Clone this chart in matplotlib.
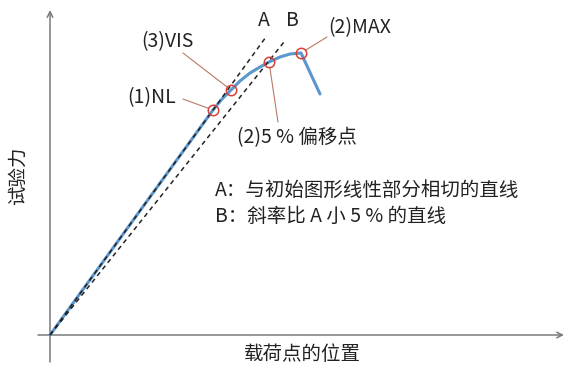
import numpy as np
import matplotlib
matplotlib.use('Agg')
import matplotlib.pyplot as plt

plt.rcParams['font.family'] = ['Noto Sans CJK SC', 'DejaVu Sans']

# load-displacement curve (displacement, force)
disp = [0, 163, 172, 181, 190, 200, 210, 219, 230, 240, 251, 270]
force = [0, 225, 236, 245, 254, 262, 268, 273, 278, 281, 282, 241]

# characteristic points
pt_names = ['NL', 'VIS', 'OFFSET', 'MAX']
pt_x = [163, 181, 219, 251]
pt_y = [225, 245, 273, 282]

# straight lines through the origin
slope_a = 1.38
slope_b = 1.252
end_a = 217
end_b = 236

fig = plt.figure(figsize=(5.66, 3.68), dpi=100)
ax = fig.add_axes([0, 0, 1, 1])
ax.set_xlim(-50, 516)
ax.set_ylim(-33, 335)
ax.axis('off')

# axes with arrows
axis_col = '#7a7a7a'
ax.annotate('', xy=(514, 0), xytext=(-12, 0),
            arrowprops=dict(arrowstyle='->', color=axis_col, lw=1.1, shrinkA=0, shrinkB=0))
ax.annotate('', xy=(0, 325), xytext=(0, -27),
            arrowprops=dict(arrowstyle='->', color=axis_col, lw=1.1, shrinkA=0, shrinkB=0))

# curve
ax.plot(disp, force, color='#5b96cc', lw=2.2, solid_capstyle='round', zorder=3)

# A and B lines
xa = np.array([0, end_a])
xb = np.array([0, end_b])
ax.plot(xa, slope_a * xa, color='#222222', lw=1.1, ls=(0, (3, 2.5)), zorder=4)
ax.plot(xb, slope_b * xb, color='#222222', lw=1.1, ls=(0, (3, 2.5)), zorder=4)

# circles on the characteristic points
ax.plot(pt_x, pt_y, 'o', ms=7.5, mfc='none', mec='#d8413a', mew=1.1, zorder=5)

# leader lines and labels
lead_col = '#b87a66'
labels = {
    'NL': ('(1)NL', (133, 236), (102, 237), 'center'),
    'VIS': ('(3)VIS', (133, 282), (117, 293), 'center'),
    'OFFSET': ('(2)5 % 偏移点', (228, 213), (187, 197), 'left'),
    'MAX': ('(2)MAX', (277, 298), (278, 307), 'left'),
}
fs = 14
for name, x, y in zip(pt_names, pt_x, pt_y):
    txt, start, tpos, ha = labels[name]
    ax.annotate('', xy=(x, y), xytext=start,
                arrowprops=dict(arrowstyle='-', color=lead_col, lw=0.8, shrinkA=0, shrinkB=3.6))
    ax.text(tpos[0], tpos[1], txt, fontsize=fs, ha=ha, va='center', color='#222222')

ax.text(214, 315, 'A', fontsize=fs, ha='center', va='center', color='#222222')
ax.text(242, 315, 'B', fontsize=fs, ha='center', va='center', color='#222222')

ax.text(165, 145, 'A：与初始图形线性部分相切的直线', fontsize=fs, ha='left', va='center', color='#222222')
ax.text(165, 119, 'B：斜率比 A 小 5 % 的直线', fontsize=fs, ha='left', va='center', color='#222222')

ax.text(-32, 159, '试验力', fontsize=fs, rotation=90, ha='center', va='center', color='#222222')
ax.text(252, -20, '载荷点的位置', fontsize=fs, ha='center', va='center', color='#222222')

fig.savefig('out.png', dpi=100)
